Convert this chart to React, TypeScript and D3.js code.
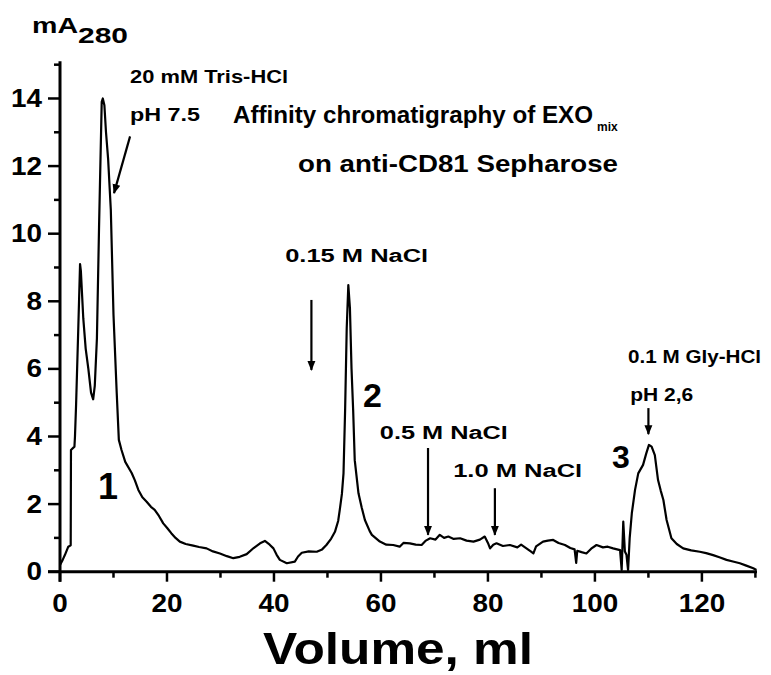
import React from "react";
import * as d3 from "d3";

const width = 771;
const height = 675;
const font = "'Liberation Sans', Arial, sans-serif";

// elution profile, [volume ml, mA280]
const trace: [number, number][] = [
  [0, 0.2], [0.5, 0.35], [0.93, 0.5], [1.55, 0.74], [2.0, 0.78], [2.05, 3.6],
  [2.7, 3.7], [2.8, 4.0], [3.0, 4.9], [3.4, 7.1], [3.75, 9.1], [3.9, 8.9],
  [4.35, 7.5], [4.8, 6.6], [5.3, 6.0], [5.8, 5.3], [6.2, 5.1], [6.5, 5.5],
  [6.9, 6.9], [7.3, 10.2], [7.8, 13.9], [8.0, 14.0], [8.3, 13.8], [8.6, 13.0],
  [9.0, 12.2], [9.5, 10.7], [10.0, 7.6], [10.6, 5.3], [11.0, 3.9], [11.5, 3.6],
  [12.2, 3.25], [13.4, 2.92], [14.0, 2.7], [14.65, 2.42], [15.4, 2.2], [16.2, 2.07],
  [17.0, 1.92], [17.7, 1.83], [18.5, 1.65], [19.3, 1.43], [20.0, 1.3], [20.8, 1.14],
  [21.6, 1.0], [22.4, 0.89], [23.5, 0.82], [24.9, 0.77], [26.0, 0.73], [27.4, 0.69],
  [28.6, 0.6], [29.9, 0.54], [31.2, 0.46], [32.4, 0.4], [33.6, 0.44], [34.9, 0.52],
  [36.2, 0.7], [37.4, 0.84], [38.3, 0.91], [39.2, 0.8], [39.9, 0.69], [40.5, 0.5],
  [41.1, 0.35], [42.4, 0.25], [43.9, 0.3], [44.5, 0.45], [45.2, 0.56], [46.5, 0.6],
  [48.0, 0.59], [49.0, 0.66], [49.8, 0.79], [50.7, 0.98], [51.4, 1.18], [52.0, 1.5],
  [52.3, 1.83], [52.7, 2.3], [53.0, 2.91], [53.3, 4.78], [53.6, 7.2], [53.9, 8.48],
  [54.2, 7.8], [54.5, 6.0], [54.8, 4.8], [55.1, 3.3], [55.8, 2.32], [56.4, 1.9],
  [57.0, 1.53], [57.9, 1.2], [58.3, 1.09], [59.8, 0.89], [61.0, 0.8], [62.3, 0.79],
  [63.5, 0.74], [64.2, 0.85], [65.4, 0.84], [66.5, 0.8], [67.6, 0.79], [68.4, 0.92],
  [69.2, 0.99], [70.2, 0.95], [71.0, 1.09], [71.8, 1.0], [72.6, 1.04], [73.6, 0.97],
  [74.8, 0.99], [76.0, 0.92], [77.3, 0.89], [78.5, 0.95], [79.4, 1.04], [80.0, 0.85],
  [80.4, 0.69], [81.0, 0.8], [81.6, 0.84], [82.8, 0.76], [84.1, 0.79], [85.5, 0.72],
  [86.2, 0.8], [87.2, 0.69], [88.0, 0.6], [88.5, 0.54], [89.0, 0.75], [90.3, 0.89],
  [91.2, 0.92], [92.2, 0.94], [93.2, 0.85], [94.4, 0.79], [95.4, 0.7], [96.2, 0.66],
  [96.5, 0.26], [96.7, 0.62], [97.5, 0.58], [98.4, 0.54], [99.3, 0.68], [100.3, 0.79],
  [101.5, 0.72], [102.4, 0.74], [103.4, 0.69], [104.7, 0.64], [105.0, 0.05], [105.3, 1.48],
  [105.6, 0.6], [105.9, 0.5], [106.2, 0.05], [106.5, 1.0], [106.9, 1.73], [107.5, 2.42],
  [108.1, 2.91], [109.0, 3.16], [109.6, 3.5], [110.1, 3.75], [110.6, 3.7], [111.2, 3.45],
  [111.8, 2.71], [112.3, 2.4], [112.8, 2.12], [113.4, 1.53], [114.3, 0.99], [115.3, 0.82],
  [116.5, 0.69], [118.0, 0.63], [119.6, 0.59], [120.8, 0.55], [122.1, 0.49], [123.4, 0.42],
  [124.6, 0.35], [125.8, 0.3], [127.1, 0.25], [128.3, 0.18], [129.6, 0.1], [130.2, 0.05]
];

const xMajor = [0, 20, 40, 60, 80, 100, 120];
const xMinor = [10, 30, 50, 70, 90, 110, 130];
const yMajor = [0, 2, 4, 6, 8, 10, 12, 14];
const yMinor = [1, 3, 5, 7, 9, 11, 13, 15];

// buffer changes: text, anchor (ml, mA), stretched width
const bufferLabels = [
  { text: "20 mM Tris-HCl", x: 13.1, y: 14.46, w: 158 },
  { text: "pH 7.5", x: 13.1, y: 13.32, w: 70 },
  { text: "0.15 M NaCl", x: 42.1, y: 9.16, w: 143 },
  { text: "0.5 M NaCl", x: 59.8, y: 3.93, w: 128 },
  { text: "1.0 M NaCl", x: 73.5, y: 2.8, w: 129 },
  { text: "0.1 M Gly-HCl", x: 106.2, y: 6.17, w: 133 },
  { text: "pH 2,6", x: 106.6, y: 5.05, w: 63 }
];

// arrows: from (x1,y1) to (x2,y2) in ml / mA
const arrows = [
  { x1: 13.1, y1: 12.88, x2: 10.1, y2: 11.2 },
  { x1: 47, y1: 8.04, x2: 47, y2: 5.97 },
  { x1: 68.8, y1: 3.66, x2: 68.8, y2: 1.09 },
  { x1: 81.3, y1: 2.47, x2: 81.3, y2: 1.09 },
  { x1: 110, y1: 4.84, x2: 110, y2: 4.07 }
];

const peakLabels = [
  { text: "1", x: 7.1, y: 2.15, size: 36 },
  { text: "2", x: 56.65, y: 4.87, size: 34 },
  { text: "3", x: 103.2, y: 3.07, size: 32 }
];

export default function App() {
  const x = d3.scaleLinear().domain([0, 130.3]).range([60, 757]);
  const y = d3.scaleLinear().domain([0, 15.1]).range([571.7, 61.3]);

  const line = d3
    .line<[number, number]>()
    .x(d => x(d[0]))
    .y(d => y(d[1]));

  const y0 = y(0);
  const x0 = x(0);

  return (
    <svg
      width={width}
      height={height}
      style={{ position: "absolute", left: 0, top: 0, background: "#fff" }}
      fontFamily={font}
      fontWeight="bold"
    >
      <defs>
        <marker
          id="head"
          viewBox="0 0 10 10"
          refX={9}
          refY={5}
          markerWidth={4.5}
          markerHeight={4.5}
          orient="auto"
          markerUnits="strokeWidth"
        >
          <path d="M0,1 L10,5 L0,9 Z" fill="#000" />
        </marker>
      </defs>

      {/* trace */}
      <path d={line(trace) || ""} fill="none" stroke="#000" strokeWidth={2.2} strokeLinejoin="round" />

      {/* axes */}
      <line x1={48} x2={x(130.3)} y1={y0} y2={y0} stroke="#000" strokeWidth={3} />
      <line x1={x0} x2={x0} y1={y(15.1)} y2={y0 + 10} stroke="#000" strokeWidth={3} />

      {xMajor.map(v => (
        <g key={"xm" + v}>
          <line x1={x(v)} x2={x(v)} y1={y0} y2={y0 + 10} stroke="#000" strokeWidth={2.5} />
          <text x={x(v)} y={612} textAnchor="middle" fontSize={26}
            textLength={String(v).length * 15.5} lengthAdjust="spacingAndGlyphs">{v}</text>
        </g>
      ))}
      {xMinor.map(v => (
        <line key={"xn" + v} x1={x(v)} x2={x(v)} y1={y0} y2={y0 + 6} stroke="#000" strokeWidth={2.5} />
      ))}

      {yMajor.map(v => (
        <g key={"ym" + v}>
          <line x1={48} x2={x0} y1={y(v)} y2={y(v)} stroke="#000" strokeWidth={2.5} />
          <text x={42} y={y(v) + 8.5} textAnchor="end" fontSize={25}
            textLength={String(v).length * 15.5} lengthAdjust="spacingAndGlyphs">{v}</text>
        </g>
      ))}
      {yMinor.map(v => (
        <line key={"yn" + v} x1={54} x2={x0} y1={y(v)} y2={y(v)} stroke="#000" strokeWidth={2.5} />
      ))}

      {/* axis titles */}
      <text x={32} y={33} fontSize={22} textLength={46} lengthAdjust="spacingAndGlyphs">mA</text>
      <text x={78} y={43} fontSize={22} textLength={50} lengthAdjust="spacingAndGlyphs">280</text>
      <text x={263} y={664} fontSize={45} textLength={270} lengthAdjust="spacingAndGlyphs">Volume, ml</text>

      {/* title */}
      <text x={x(32.34)} y={y(13.26)} fontSize={24} textLength={360} lengthAdjust="spacingAndGlyphs">
        Affinity chromatigraphy of EXO
      </text>
      <text x={597} y={y(13.26) + 8} fontSize={12}>mix</text>
      <text x={x(44.5)} y={y(11.83)} fontSize={24} textLength={320} lengthAdjust="spacingAndGlyphs">
        on anti-CD81 Sepharose
      </text>

      {bufferLabels.map(d => (
        <text key={d.text} x={x(d.x)} y={y(d.y)} fontSize={18} textLength={d.w} lengthAdjust="spacingAndGlyphs">
          {d.text}
        </text>
      ))}

      {arrows.map((d, i) => (
        <line key={"a" + i} x1={x(d.x1)} y1={y(d.y1)} x2={x(d.x2)} y2={y(d.y2)}
          stroke="#000" strokeWidth={2.2} markerEnd="url(#head)" />
      ))}

      {peakLabels.map(d => (
        <text key={d.text} x={x(d.x)} y={y(d.y)} fontSize={d.size}>{d.text}</text>
      ))}
    </svg>
  );
}
